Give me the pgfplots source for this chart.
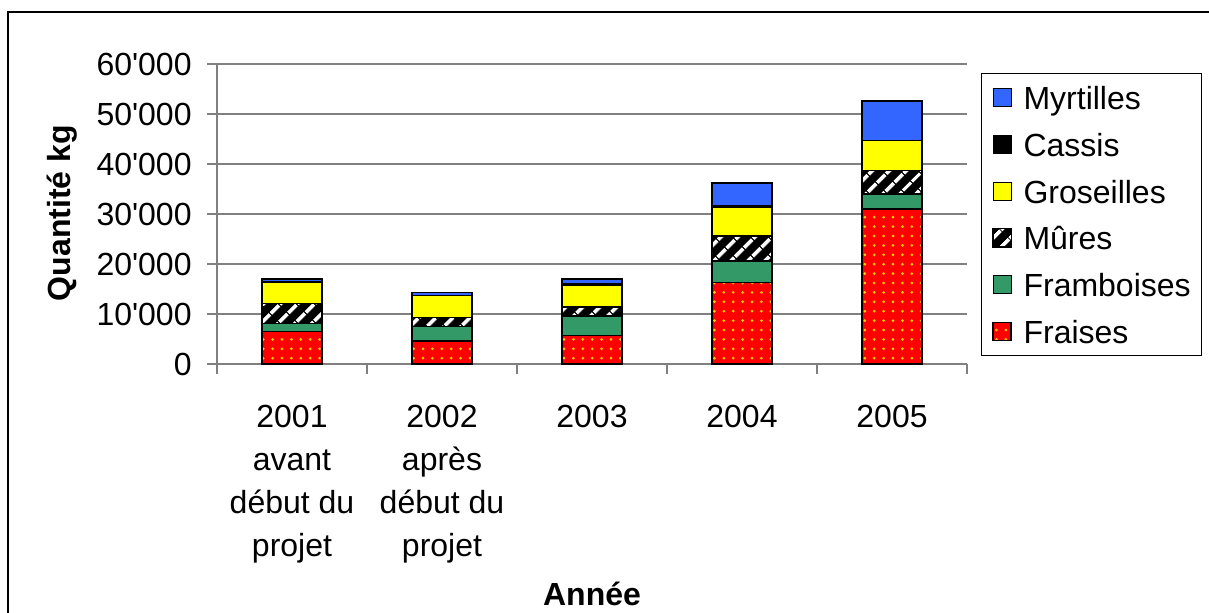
\documentclass[border=0pt]{standalone}
\usepackage{fontspec}
\setmainfont{Liberation Sans}[Ligatures=TeXOff]
\usepackage{pgfplots}
\usepackage{pgfplotstable}
\pgfplotsset{compat=1.18}
\usetikzlibrary{patterns.meta}
\definecolor{myrt}{RGB}{51,102,255}
\definecolor{gros}{RGB}{255,255,0}
\definecolor{framb}{RGB}{51,153,102}
\definecolor{frais}{RGB}{255,0,0}
\definecolor{dotc}{RGB}{255,204,0}
\definecolor{gridc}{RGB}{128,128,128}

\pgfplotstableread{
x fraises framb mures gros cassis myrt
0 6500 1600 4000 4350 0 550
1 4600 2900 1850 4350 0 600
2 5700 3950 1800 4350 300 900
3 16300 4300 5000 5700 300 4650
4 31000 3000 4700 6000 0 7900
}\data

\begin{document}
\begin{tikzpicture}
\path[use as bounding box] (0,0) rectangle (604.5pt,306pt);
\draw[line width=1.25pt] (4pt,-5pt) -- (4pt,300pt) -- (610pt,300pt);
\begin{axis}[
  at={(108.5pt,124pt)}, anchor=south west,
  width=375pt, height=150pt, scale only axis,
  xmin=-0.5, xmax=4.5, ymin=0, ymax=60000,
  ybar stacked, bar width=30pt,
  axis x line*=bottom, axis y line*=left,
  axis line style={gridc, line width=0.6pt, -},
  scaled y ticks=false,
  ytick={0,10000,20000,30000,40000,50000,60000},
  yticklabels={0,10'000,20'000,30'000,40'000,50'000,60'000},
  ymajorgrids, grid style={gridc, line width=0.6pt},
  tick align=outside, major tick length=5pt,
  tick style={gridc, line width=0.6pt},
  tick label style={font=\fontsize{16}{21.5}\selectfont},
  yticklabel style={anchor=east, inner sep=0pt, xshift=-7.5pt},
  xtick={-0.5,0.5,1.5,2.5,3.5,4.5}, xticklabels={},
  extra x ticks={0,1,2,3,4},
  extra x tick labels={{2001\\avant\\début du\\projet},{2002\\après\\début du\\projet},2003,2004,2005},
  extra x tick style={major tick length=0pt, xticklabel style={align=center, anchor=north, inner sep=0pt, yshift=-20.5pt}},
  xlabel={\textbf{Année}}, ylabel={\textbf{Quantité kg}},
  label style={font=\fontsize{16}{19}\selectfont},
  xlabel style={at={(axis description cs:0.5,-0.765)}, anchor=center},
  ylabel style={at={(axis description cs:-0.2067,0.503)}, anchor=center},
  reverse legend,
  legend cell align=left,
  legend style={at={(1.0187,0.97)}, anchor=north west, draw=black, line width=0.5pt,
    font=\fontsize{16}{19}\selectfont, row sep=11.4pt, column sep=6pt,
    inner xsep=5.5pt, inner ysep=6pt,
    nodes={inner sep=0pt, text height=12pt, text depth=0pt}},
  legend image code/.code={\draw[#1, line width=0.5pt] (0pt,-4.5pt) rectangle (9pt,4.5pt);},
]
\addplot[draw=black, line width=0.75pt, preaction={fill=frais}, pattern={Dots[radius=0.75pt, distance=4.7pt]}, pattern color=dotc] table[x=x, y=fraises] {\data};
\addplot[draw=black, line width=0.75pt, fill=framb] table[x=x, y=framb] {\data};
\addplot[draw=black, line width=0.75pt, preaction={fill=black}, pattern={Lines[angle=45, distance=6.4pt, line width=2pt]}, pattern color=white] table[x=x, y=mures] {\data};
\addplot[draw=black, line width=0.75pt, fill=gros] table[x=x, y=gros] {\data};
\addplot[draw=black, line width=0.75pt, fill=black] table[x=x, y=cassis] {\data};
\addplot[draw=black, line width=0.75pt, fill=myrt] table[x=x, y=myrt] {\data};
\legend{Fraises, Framboises, Mûres, Groseilles, Cassis, Myrtilles}
\end{axis}
\end{tikzpicture}
\end{document}
